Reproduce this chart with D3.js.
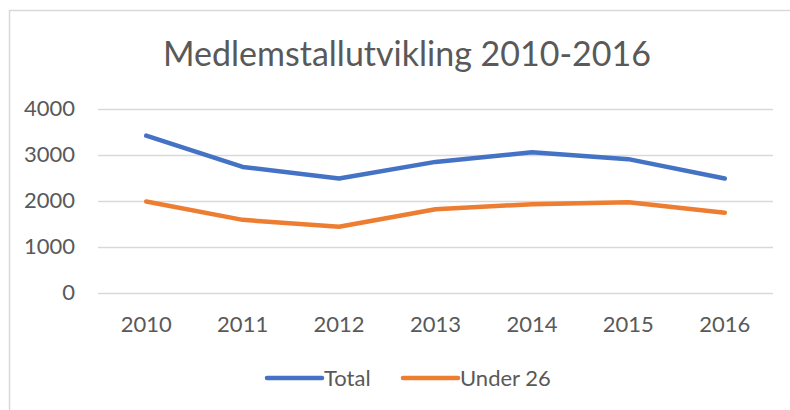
<!DOCTYPE html>
<html>
<head>
<meta charset="utf-8">
<script src="https://cdn.jsdelivr.net/npm/d3@7"></script>
<style>
  body { margin: 0; background: #fff; }
  svg { display: block; font-family: Lato, "Open Sans", sans-serif; }
</style>
</head>
<body>
<div class="chart"></div>
<script>
// data
const years = ['2010', '2011', '2012', '2013', '2014', '2015', '2016']
const total = [3420, 2740, 2490, 2850, 3060, 2910, 2490]
const under26 = [1990, 1590, 1440, 1820, 1930, 1975, 1745]
const yTicks = [0, 1000, 2000, 3000, 4000]
const seriesNames = ['Total', 'Under 26']
const colors = ['#4472c4', '#ed7d31']

const w = 790
const h = 410
const margin = {top: 109, right: 17, bottom: 117, left: 98}
const innerWidth = w - margin.left - margin.right

const svg = d3.select('.chart')
    .append('svg')
    .attr('width', w)
    .attr('height', h)

// chart area frame (only top and left edges show)
svg.append('path')
    .attr('d', `M9.5,${h} V10.5 H${w}`)
    .attr('fill', 'none')
    .attr('stroke', '#d9d9d9')
    .attr('stroke-width', 1.5)

svg.append('text')
    .attr('x', 407)
    .attr('y', 66)
    .attr('text-anchor', 'middle')
    .attr('fill', '#595959')
    .style('font-size', '34px')
    .text('Medlemstallutvikling 2010-2016')

// scales in page coordinates
const x = d3.scaleBand()
    .domain(years)
    .range([margin.left, w - margin.right])

const y = d3.scaleLinear()
    .domain([0, 4000])
    .range([h - margin.bottom, margin.top])

// gridlines
const grid = svg.append('g')
    .attr('transform', `translate(${margin.left}, 0)`)
    .call(d3.axisLeft(y).tickValues(yTicks).tickFormat('').tickSize(-innerWidth))
grid.select('.domain').remove()
grid.selectAll('text').remove()
grid.selectAll('line').attr('stroke', '#d9d9d9').attr('stroke-width', 1.5)

// y labels
svg.append('g')
    .selectAll('text')
    .data(yTicks)
    .join('text')
    .attr('x', margin.left - 23)
    .attr('y', d => y(d))
    .attr('dy', '0.34em')
    .attr('text-anchor', 'end')
    .attr('fill', '#595959')
    .style('font-size', '22px')
    .text(d3.format('d'))

// x labels
svg.append('g')
    .selectAll('text')
    .data(years)
    .join('text')
    .attr('x', d => x(d) + x.bandwidth() / 2)
    .attr('y', y(0) + 23)
    .attr('dy', '0.71em')
    .attr('text-anchor', 'middle')
    .attr('fill', '#595959')
    .style('font-size', '22px')
    .text(d => d)

const line = d3.line()
    .x((d, i) => x(years[i]) + x.bandwidth() / 2)
    .y(d => y(d))

const series = [total, under26]
series.forEach((vals, k) => {
    svg.append('path')
        .datum(vals)
        .attr('d', line)
        .attr('fill', 'none')
        .attr('stroke', colors[k])
        .attr('stroke-width', 4.5)
        .attr('stroke-linecap', 'round')
        .attr('stroke-linejoin', 'round')
})

// legend
const legendX = [267, 403]
const legend = svg.append('g')
seriesNames.forEach((name, k) => {
    legend.append('line')
        .attr('x1', legendX[k])
        .attr('x2', legendX[k] + 55)
        .attr('y1', 378)
        .attr('y2', 378)
        .attr('stroke', colors[k])
        .attr('stroke-width', 4.5)
        .attr('stroke-linecap', 'round')
    legend.append('text')
        .attr('x', legendX[k] + 57)
        .attr('y', 386)
        .attr('fill', '#595959')
        .style('font-size', '22px')
        .text(name)
})
</script>
</body>
</html>
